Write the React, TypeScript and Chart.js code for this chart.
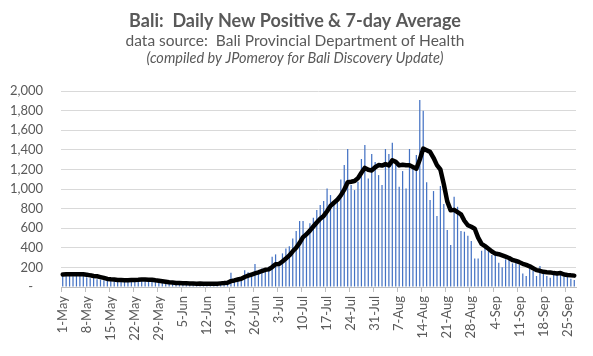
import React, { useEffect, useRef } from "react";
import { Chart, registerables } from "chart.js";

Chart.register(...registerables);

const TITLE = "Bali:  Daily New Positive & 7-day Average";
const SUBTITLE = "data source:  Bali Provincial Department of Health";
const CREDIT = "(compiled by JPomeroy for Bali Discovery Update)";

const MONTHS = ["May", "Jun", "Jul", "Aug", "Sep"];
const MONTH_DAYS = [31, 30, 31, 31, 27];

const TICK_LABELS = [
  "1-May", "8-May", "15-May", "22-May", "29-May", "5-Jun", "12-Jun", "19-Jun",
  "26-Jun", "3-Jul", "10-Jul", "17-Jul", "24-Jul", "31-Jul", "7-Aug", "14-Aug",
  "21-Aug", "28-Aug", "4-Sep", "11-Sep", "18-Sep", "25-Sep",
];

const Y_TICKS = [0, 200, 400, 600, 800, 1000, 1200, 1400, 1600, 1800, 2000];

// Daily new positive cases, 1-May .. 27-Sep
const NEW_CASES = [
  // May
  120, 135, 140, 110, 130, 125, 140, 100, 90, 95, 80, 75, 70, 65,
  70, 75, 60, 80, 70, 65, 85, 70, 80, 85, 75, 60, 55, 50, 45, 40, 50,
  // Jun
  40, 35, 30, 38, 33, 36, 42, 30, 28, 35, 32, 38, 30, 36,
  40, 48, 55, 62, 146, 85, 95, 100, 170, 150, 140, 235, 156, 190, 185, 207,
  // Jul
  309, 333, 258, 343, 392, 415, 496, 571, 673, 673, 547, 650, 707, 785,
  836, 877, 1006, 938, 870, 921, 1098, 1244, 1408, 1040, 989, 1074, 1306, 1448,
  1108, 1357, 1275,
  // Aug
  1142, 1040, 1408, 1357, 1472, 1244, 1023, 1183, 1006, 1408, 1237, 1346, 1907, 1798,
  1070, 887, 979, 724, 1030, 847, 581, 428, 921, 819, 571, 564, 524, 469,
  292, 292, 370,
  // Sep
  405, 377, 326, 326, 248, 201, 282, 309, 241, 265, 224, 139, 112, 190,
  163, 112, 214, 156, 112, 95, 139, 132, 156, 105, 122, 85, 71,
];

// 7-day average line, 1-May .. 27-Sep
const AVG_7DAY = [
  // May
  128, 129, 130, 130, 129, 129, 129, 126, 119, 113, 109, 101, 93, 82,
  78, 76, 71, 71, 70, 69, 72, 72, 73, 76, 76, 74, 73, 68, 64, 59, 54,
  // Jun
  49, 45, 41, 40, 38, 37, 36, 35, 34, 35, 34, 34, 34, 33,
  34, 37, 40, 44, 60, 67, 76, 84, 102, 115, 127, 139, 149, 163, 175, 180,
  // Jul
  203, 231, 234, 261, 290, 322, 364, 401, 450, 509, 538, 575, 617, 658,
  696, 725, 773, 828, 860, 890, 935, 993, 1069, 1074, 1081, 1111, 1166, 1216,
  1196, 1189, 1222,
  // Aug
  1244, 1239, 1254, 1241, 1293, 1277, 1241, 1247, 1242, 1242, 1225, 1207, 1301, 1412,
  1396, 1379, 1318, 1244, 1199, 1048, 874, 782, 787, 764, 742, 676, 630, 614,
  594, 504, 440,
  // Sep
  417, 390, 362, 341, 335, 322, 309, 296, 276, 267, 253, 237, 225, 211,
  191, 172, 165, 155, 151, 149, 142, 137, 143, 128, 123, 119, 116,
];

const DATES: string[] = [];
MONTHS.forEach((m, mi) => {
  for (let d = 1; d <= MONTH_DAYS[mi]; d++) DATES.push(`${d}-${m}`);
});

const FONT = "Lato, 'Open Sans', sans-serif";
const GREY = "#595959";

const headerPlugin = {
  id: "header",
  afterDraw(chart: any) {
    const ctx = chart.ctx;
    const cx = 295;
    ctx.save();
    ctx.fillStyle = GREY;
    ctx.textAlign = "center";
    ctx.textBaseline = "alphabetic";
    ctx.font = `bold 18px ${FONT}`;
    ctx.fillText(TITLE, cx, 27);
    ctx.font = `15.5px ${FONT}`;
    ctx.fillText(SUBTITLE, cx, 45.5);
    ctx.font = `italic 14.5px ${FONT}`;
    ctx.fillText(CREDIT, cx, 62.5);
    ctx.restore();
  },
};

export default function App() {
  const canvasRef = useRef<HTMLCanvasElement | null>(null);

  useEffect(() => {
    if (!canvasRef.current) return;
    const tickSet = new Set(TICK_LABELS);
    const chart = new Chart(canvasRef.current, {
      type: "bar",
      data: {
        labels: DATES,
        datasets: [
          {
            type: "line",
            label: "7-day Average",
            data: AVG_7DAY,
            borderColor: "#000000",
            borderWidth: 4.5,
            pointRadius: 0,
            tension: 0,
            borderJoinStyle: "round",
            borderCapStyle: "round",
            order: 0,
          } as any,
          {
            type: "bar",
            label: "Daily New Positive",
            data: NEW_CASES,
            backgroundColor: "#4472C4",
            barPercentage: 0.36,
            categoryPercentage: 1,
            order: 1,
          },
        ],
      },
      options: {
        responsive: false,
        animation: false,
        devicePixelRatio: 1,
        layout: { padding: { top: 91, left: 9, right: 17, bottom: 0 } },
        plugins: {
          legend: { display: false },
          tooltip: { enabled: false },
          title: { display: false },
        },
        scales: {
          x: {
            offset: true,
            afterFit: (axis: any) => {
              axis.height = 69;
              axis.paddingLeft = 0;
              axis.paddingRight = 0;
            },
            grid: {
              offset: true,
              drawOnChartArea: false,
              drawTicks: true,
              tickLength: 5,
              color: (c: any) =>
                c.index < DATES.length && tickSet.has(DATES[c.index]) ? "#bfbfbf" : "rgba(0,0,0,0)",
            },
            border: { color: "#bfbfbf" },
            ticks: {
              autoSkip: false,
              maxRotation: 90,
              minRotation: 90,
              padding: 4,
              color: GREY,
              font: { family: FONT, size: 13 },
              callback: (_v: any, i: number) => (tickSet.has(DATES[i]) ? DATES[i] : ""),
            },
          },
          y: {
            min: Y_TICKS[0],
            max: Y_TICKS[Y_TICKS.length - 1],
            afterBuildTicks: (axis: any) => {
              axis.ticks = Y_TICKS.map((v) => ({ value: v }));
            },
            afterFit: (axis: any) => {
              axis.width = 52;
              axis.paddingTop = 0;
              axis.paddingBottom = 0;
            },
            grid: { color: "#d9d9d9", drawTicks: false },
            border: { display: false },
            ticks: {
              padding: 18,
              color: GREY,
              font: { family: FONT, size: 13 },
              callback: (v: any) => (v === 0 ? "-   " : Number(v).toLocaleString("en-US")),
            },
          },
        },
      },
      plugins: [headerPlugin],
    });
    return () => chart.destroy();
  }, []);

  return (
    <div style={{ position: "absolute", left: 0, top: 0, width: 593, height: 356, background: "#fff" }}>
      <canvas ref={canvasRef} width={593} height={356} style={{ width: 593, height: 356 }} />
    </div>
  );
}
